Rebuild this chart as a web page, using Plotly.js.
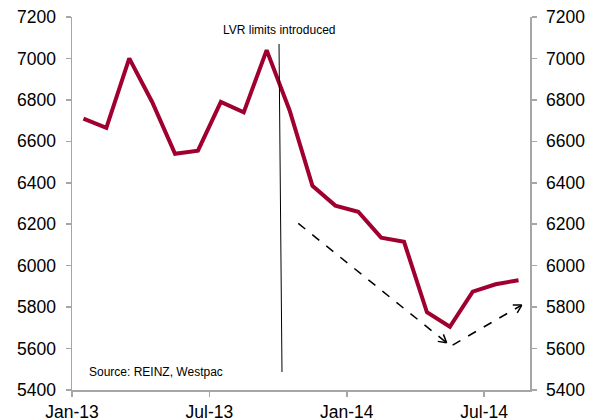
<!DOCTYPE html>
<html>
<head>
<meta charset="utf-8">
<script src="https://cdn.plot.ly/plotly-3.0.1.min.js"></script>
<style>html,body{margin:0;padding:0;background:#fff;}#chart{width:596px;height:420px;}</style>
</head>
<body>
<div id="chart"></div>
<script>
// Monthly house sales (REINZ), Jan-13 .. Aug-14
const months = ['Jan-13','Feb-13','Mar-13','Apr-13','May-13','Jun-13','Jul-13','Aug-13','Sep-13','Oct-13','Nov-13','Dec-13',
                'Jan-14','Feb-14','Mar-14','Apr-14','May-14','Jun-14','Jul-14','Aug-14'];
const sales = [6710, 6665, 7000, 6790, 6540, 6555, 6790, 6740, 7040, 6750, 6385, 6290,
               6260, 6135, 6115, 5775, 5705, 5875, 5910, 5930];
const tickMonths = ['Jan-13','Jul-13','Jan-14','Jul-14'];

// Annotation geometry (month-index, value units)
const lvrLine = {x0: 8.54, y0: 7070, x1: 8.67, y1: 5487};
const lvrLabel = {x: 8.58, y: 7135, text: 'LVR limits introduced'};
const arrowDown = {x0: 9.38, y0: 6204, x1: 15.86, y1: 5628};
const arrowUp = {x0: 16.12, y0: 5617, x1: 19.14, y1: 5810};

const xIdx = months.map((m, i) => i);
const tickVals = tickMonths.map(m => months.indexOf(m) - 0.5);

const axisColor = '#A6A6A6';
const font = 'Liberation Sans, Arial, sans-serif';
const margin = {l: 72, r: 66, t: 17, b: 30};
const W = 596, H = 420;
const xRange = [-0.5, 19.5], yRange = [5400, 7200];

const trace = {
  x: xIdx, y: sales, type: 'scatter', mode: 'lines',
  line: {color: '#A0002F', width: 4}, hoverinfo: 'skip', showlegend: false
};
const trace2 = {x: [xIdx[0]], y: [sales[0]], yaxis: 'y2', mode: 'lines', showlegend: false,
  line: {width: 0}, hoverinfo: 'skip'};

// px per data unit, to build open arrowheads of fixed pixel size
const kx = (W - margin.l - margin.r) / (xRange[1] - xRange[0]);
const ky = (H - margin.t - margin.b) / (yRange[1] - yRange[0]);

function dashedArrow(a) {
  const shapes = [{type: 'line', xref: 'x', yref: 'y', x0: a.x0, y0: a.y0, x1: a.x1, y1: a.y1,
    line: {color: '#000', width: 1.5, dash: 'dash'}}];
  const dx = (a.x1 - a.x0) * kx, dy = (a.y1 - a.y0) * ky;
  const len = Math.hypot(dx, dy), ux = dx / len, uy = dy / len;
  const L = 9, ang = Math.PI / 6;
  [ang, -ang].forEach(t => {
    const rx = ux * Math.cos(t) - uy * Math.sin(t);
    const ry = ux * Math.sin(t) + uy * Math.cos(t);
    shapes.push({type: 'line', xref: 'x', yref: 'y', x0: a.x1, y0: a.y1,
      x1: a.x1 - L * rx / kx, y1: a.y1 - L * ry / ky, line: {color: '#000', width: 1.5}});
  });
  return shapes;
}

const yax = {
  range: yRange, dtick: 200, tick0: 5400, showgrid: false, zeroline: false,
  showline: true, linecolor: axisColor, linewidth: 1.5,
  ticks: 'outside', ticklen: 5, tickcolor: axisColor, tickwidth: 1.5,
  tickfont: {family: font, size: 17.5, color: '#000'}, ticklabelstandoff: 6, fixedrange: true
};

const layout = {
  width: W, height: H, margin: margin,
  paper_bgcolor: '#fff', plot_bgcolor: '#fff',
  xaxis: {
    range: xRange, tickvals: tickVals, ticktext: tickMonths,
    showgrid: false, zeroline: false, showline: true, linecolor: axisColor, linewidth: 1.5,
    ticks: 'outside', ticklen: 5, tickcolor: axisColor, tickwidth: 1.5,
    tickfont: {family: font, size: 17.5, color: '#000'}, ticklabelstandoff: 0
  },
  yaxis: Object.assign({}, yax, {side: 'left'}),
  yaxis2: Object.assign({}, yax, {side: 'right', overlaying: 'y'}),
  shapes: [
    {type: 'line', xref: 'x', yref: 'y', x0: lvrLine.x0, y0: lvrLine.y0, x1: lvrLine.x1, y1: lvrLine.y1,
     line: {color: '#000', width: 1}}
  ].concat(dashedArrow(arrowDown), dashedArrow(arrowUp)),
  annotations: [
    {xref: 'x', yref: 'y', x: lvrLabel.x, y: lvrLabel.y, text: lvrLabel.text, showarrow: false,
     xanchor: 'center', yanchor: 'middle', font: {family: font, size: 12, color: '#000'}},
    {xref: 'paper', yref: 'paper', x: 0.033, y: 0.048, text: 'Source: REINZ, Westpac', showarrow: false,
     xanchor: 'left', yanchor: 'middle', font: {family: font, size: 12, color: '#000'}}
  ]
};

Plotly.newPlot('chart', [trace, trace2], layout, {staticPlot: true, displayModeBar: false});
</script>
</body>
</html>
